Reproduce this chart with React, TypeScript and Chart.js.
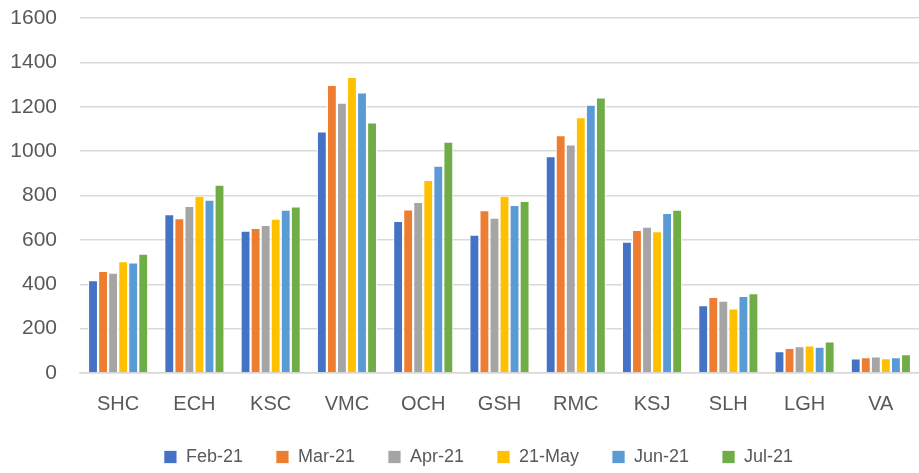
import React, { useEffect, useRef } from "react";
import { Chart, registerables } from "chart.js";

Chart.register(...registerables);

const categories = ["SHC", "ECH", "KSC", "VMC", "OCH", "GSH", "RMC", "KSJ", "SLH", "LGH", "VA"];
const seriesNames = ["Feb-21", "Mar-21", "Apr-21", "21-May", "Jun-21", "Jul-21"];
const seriesColors = ["#4472C4", "#ED7D31", "#A5A5A5", "#FFC000", "#5B9BD5", "#70AD47"];

const feb21 = [418, 715, 641, 1089, 685, 623, 977, 591, 305, 98, 65];
const mar21 = [460, 698, 653, 1298, 737, 733, 1072, 644, 342, 113, 71];
const apr21 = [452, 753, 667, 1218, 771, 700, 1030, 659, 326, 121, 74];
const may21 = [504, 799, 695, 1334, 870, 799, 1153, 639, 291, 124, 66];
const jun21 = [498, 781, 736, 1264, 934, 757, 1209, 721, 347, 118, 71];
const jul21 = [537, 849, 750, 1129, 1042, 775, 1242, 736, 360, 142, 85];

const seriesValues = [feb21, mar21, apr21, may21, jun21, jul21];

const FONT = "'Liberation Sans', 'DejaVu Sans', sans-serif";

const legendShift = {
  id: "legendShift",
  afterLayout(chart: any) {
    if (chart.legend) {
      chart.legend.left += 19;
      chart.legend.right += 19;
    }
  },
};

export default function App() {
  const ref = useRef<HTMLCanvasElement | null>(null);

  useEffect(() => {
    if (!ref.current) return;
    const chart = new Chart(ref.current, {
      type: "bar",
      data: {
        labels: categories,
        datasets: seriesNames.map((name, i) => ({
          label: name,
          data: seriesValues[i],
          backgroundColor: seriesColors[i],
          borderColor: "#ffffff",
          borderWidth: { top: 1, left: 1, right: 1, bottom: 0 },
          categoryPercentage: 0.79,
          barPercentage: 0.98,
        })),
      },
      options: {
        animation: false,
        responsive: false,
        maintainAspectRatio: false,
        layout: { padding: { top: 18, right: 0, left: 0, bottom: -3 } },
        scales: {
          x: {
            grid: { display: false, drawTicks: false },
            border: { display: true, color: "#D9D9D9", width: 1.5 },
            ticks: { color: "#595959", font: { family: FONT, size: 20 }, padding: 19 },
            afterFit: (scale: any) => {
              scale.height = 42;
            },
          },
          y: {
            min: 0,
            max: 1600,
            grid: { color: "#D9D9D9", lineWidth: 1.5, drawTicks: false },
            border: { display: false },
            ticks: {
              stepSize: 200,
              color: "#595959",
              font: { family: FONT, size: 21 },
              padding: 23,
              callback: (v: any) => String(v),
            },
            afterFit: (scale: any) => {
              scale.width = 80;
              scale.paddingTop = 0;
              scale.paddingBottom = 0;
            },
          },
        },
        plugins: {
          legend: {
            position: "bottom",
            labels: {
              color: "#595959",
              font: { family: FONT, size: 18, lineHeight: 1.0 },
              boxWidth: 13,
              boxHeight: 13,
              padding: 33,
            },
          },
          tooltip: { enabled: false },
        },
      },
      plugins: [legendShift],
    });
    return () => chart.destroy();
  }, []);

  return (
    <div style={{ position: "fixed", left: 0, top: 0, width: 919, height: 473, background: "#fff" }}>
      <canvas ref={ref} width={919} height={473} />
    </div>
  );
}
